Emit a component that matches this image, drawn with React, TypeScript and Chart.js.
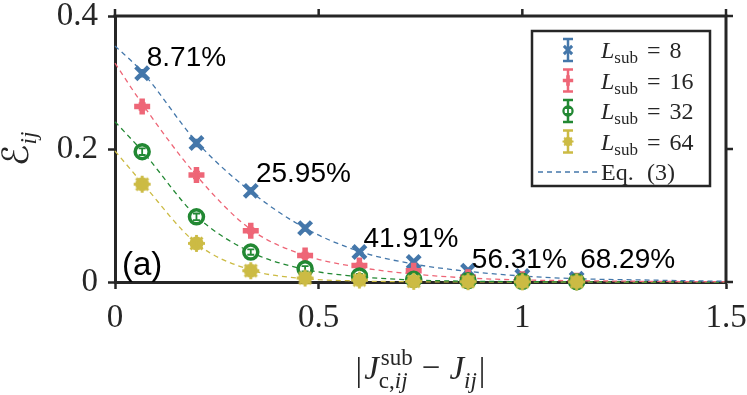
import React, { useEffect, useRef } from 'react';
import { Chart, registerables } from 'chart.js';

Chart.register(...registerables);

// ---- data ----
const xValues = [0.0667, 0.2, 0.3333, 0.4667, 0.6, 0.7333, 0.8667, 1.0, 1.1333];
const eps8 = [0.314, 0.209, 0.137, 0.081, 0.045, 0.030, 0.017, 0.009, 0.005];
const eps16 = [0.264, 0.161, 0.077, 0.040, 0.025, 0.017, 0.007, 0.004, 0.002];
const eps32 = [0.196, 0.098, 0.045, 0.020, 0.009, 0.004, 0.002, 0.001, 0.0005];
const eps64 = [0.147, 0.058, 0.017, 0.006, 0.003, 0.001, 0.0005, 0.0002, 0.0001];
const err8 = [0.005, 0.005, 0.004, 0.004, 0.003, 0.003, 0.002, 0.002, 0.002];
const err16 = [0.005, 0.005, 0.004, 0.004, 0.003, 0.003, 0.002, 0.002, 0.002];
const err32 = [0.005, 0.005, 0.004, 0.004, 0.003, 0.003, 0.002, 0.002, 0.002];
const err64 = [0.005, 0.004, 0.004, 0.003, 0.003, 0.002, 0.002, 0.002, 0.002];
const fitX = [0, 0.0667, 0.2, 0.3333, 0.4667, 0.6, 0.7333, 0.8667, 1.0, 1.1333, 1.3, 1.5];
const fit8 = [0.355, 0.316, 0.211, 0.136, 0.081, 0.046, 0.027, 0.016, 0.009, 0.005, 0.003, 0.001];
const fit16 = [0.329, 0.268, 0.160, 0.079, 0.040, 0.022, 0.012, 0.006, 0.003, 0.002, 0.001, 0.0004];
const fit32 = [0.241, 0.197, 0.099, 0.045, 0.019, 0.008, 0.003, 0.0012, 0.0005, 0.0002, 0.0001, 0];
const fit64 = [0.197, 0.149, 0.058, 0.018, 0.005, 0.0015, 0.0004, 0.0001, 0, 0, 0, 0];
const subsystemSizes = ['8', '16', '32', '64'];
const xTickValues = [0, 0.5, 1, 1.5];
const xTickLabels = ['0', '0.5', '1', '1.5'];
const yTickValues = [0, 0.2, 0.4];
const yTickLabels = ['0', '0.2', '0.4'];
const percentLabels = ['8.71%', '25.95%', '41.91%', '56.31%', '68.29%'];

const seriesVals = [eps8, eps16, eps32, eps64];
const seriesErrs = [err8, err16, err32, err64];
const seriesFits = [fit8, fit16, fit32, fit64];
const COLORS = ['#4477AA', '#EE6677', '#228833', '#CCBB44'];
const INK = '#262626';
const SERIF = '"Liberation Serif", "Times New Roman", serif';
const SANS = '"Liberation Sans", Arial, sans-serif';

// anchors (data units) for the percentage annotations: left / baseline
const noteAnchors = [
  { x: 0.078, y: 0.325 },
  { x: 0.346, y: 0.150 },
  { x: 0.610, y: 0.053 },
  { x: 0.876, y: 0.021 },
  { x: 1.142, y: 0.021 },
];

function makeSpiky(color: string, r: number) {
  const size = Math.ceil(r * 2 + 4);
  const c = document.createElement('canvas');
  c.width = size;
  c.height = size;
  const g = c.getContext('2d')!;
  const m = size / 2;
  g.fillStyle = color;
  g.beginPath();
  g.arc(m, m, r - 1.5, 0, Math.PI * 2);
  g.fill();
  g.strokeStyle = color;
  g.lineWidth = 2.8;
  for (let k = 0; k < 8; k++) {
    const a = (k * Math.PI) / 4;
    g.beginPath();
    g.moveTo(m, m);
    g.lineTo(m + Math.cos(a) * r, m + Math.sin(a) * r);
    g.stroke();
  }
  return c;
}

function drawMarker(ctx: CanvasRenderingContext2D, idx: number, x: number, y: number, spiky: HTMLCanvasElement, s: number) {
  const col = COLORS[idx];
  ctx.save();
  ctx.strokeStyle = col;
  ctx.fillStyle = col;
  if (idx === 0) {
    const d = 9 * s * Math.SQRT1_2;
    ctx.lineWidth = 4.5 * s;
    ctx.beginPath();
    ctx.moveTo(x - d, y - d); ctx.lineTo(x + d, y + d);
    ctx.moveTo(x - d, y + d); ctx.lineTo(x + d, y - d);
    ctx.stroke();
  } else if (idx === 1) {
    const d = 8 * s;
    ctx.lineWidth = 5.5 * s;
    ctx.beginPath();
    ctx.moveTo(x - d, y); ctx.lineTo(x + d, y);
    ctx.moveTo(x, y - d); ctx.lineTo(x, y + d);
    ctx.stroke();
  } else if (idx === 2) {
    ctx.lineWidth = 3.5 * s;
    ctx.fillStyle = '#ffffff';
    ctx.beginPath();
    ctx.arc(x, y, 7 * s, 0, Math.PI * 2);
    ctx.fill();
    ctx.stroke();
  } else {
    const w = spiky.width * s;
    ctx.drawImage(spiky, x - w / 2, y - w / 2, w, w);
  }
  ctx.restore();
}

function drawErrorBar(ctx: CanvasRenderingContext2D, col: string, x: number, y1: number, y2: number, capHalf: number, lw: number) {
  ctx.save();
  ctx.strokeStyle = col;
  ctx.lineWidth = lw;
  ctx.beginPath();
  ctx.moveTo(x, y1); ctx.lineTo(x, y2);
  ctx.moveTo(x - capHalf, y1); ctx.lineTo(x + capHalf, y1);
  ctx.moveTo(x - capHalf, y2); ctx.lineTo(x + capHalf, y2);
  ctx.stroke();
  ctx.restore();
}

export default function App() {
  const ref = useRef<HTMLCanvasElement>(null);

  useEffect(() => {
    const canvas = ref.current!;
    const spiky = makeSpiky(COLORS[3], 8.5);

    const fitDatasets = seriesFits.map((vals, i) => ({
      type: 'line' as const,
      label: 'fit' + i,
      data: fitX.map((x, j) => ({ x, y: vals[j] })),
      showLine: true,
      borderColor: COLORS[i],
      borderWidth: 1.3,
      borderDash: [5, 4],
      pointRadius: 0,
      cubicInterpolationMode: 'monotone' as const,
      fill: false,
      order: 10 + i,
      clip: false as const,
    }));

    const styles: any[] = [
      { pointStyle: 'crossRot', pointRadius: 9, pointBorderWidth: 4.5, pointBackgroundColor: COLORS[0] },
      { pointStyle: 'cross', pointRadius: 8, pointBorderWidth: 5.5, pointBackgroundColor: COLORS[1] },
      { pointStyle: 'circle', pointRadius: 7, pointBorderWidth: 3.5, pointBackgroundColor: '#ffffff' },
      { pointStyle: spiky, pointRadius: 8.5, pointBorderWidth: 0, pointBackgroundColor: COLORS[3] },
    ];

    const markerDatasets = seriesVals.map((vals, i) => ({
      type: 'scatter' as const,
      label: 'L' + subsystemSizes[i],
      data: xValues.map((x, j) => ({ x, y: vals[j] })),
      errors: seriesErrs[i],
      showLine: false,
      borderColor: COLORS[i],
      pointBorderColor: COLORS[i],
      ...styles[i],
      order: 4 - i,
      clip: false as const,
    }));

    const errorBarPlugin = {
      id: 'errorBars',
      afterDatasetDraw(chart: any, args: any) {
        const ds = chart.data.datasets[args.index];
        if (!ds.errors) return;
        const ctx = chart.ctx as CanvasRenderingContext2D;
        const ys = chart.scales.y;
        args.meta.data.forEach((pt: any, j: number) => {
          const v = ds.data[j].y;
          const e = ds.errors[j];
          drawErrorBar(ctx, ds.borderColor, pt.x, ys.getPixelForValue(v - e), ys.getPixelForValue(v + e), 3.5, 1.8);
        });
      },
    };

    const decorPlugin = {
      id: 'decor',
      afterDraw(chart: any) {
        const ctx = chart.ctx as CanvasRenderingContext2D;
        const { left, right, top, bottom } = chart.chartArea;
        const xs = chart.scales.x;
        const ys = chart.scales.y;
        ctx.save();

        // top and right frame with outward ticks
        ctx.strokeStyle = INK;
        ctx.lineWidth = 3;
        ctx.beginPath();
        ctx.moveTo(left - 1.5, top);
        ctx.lineTo(right + 1.5, top);
        ctx.moveTo(right, top);
        ctx.lineTo(right, bottom + 1.5);
        ctx.stroke();
        ctx.lineWidth = 2.5;
        ctx.beginPath();
        xTickValues.forEach((v) => {
          const px = xs.getPixelForValue(v);
          ctx.moveTo(px, top);
          ctx.lineTo(px, top - 7);
        });
        yTickValues.forEach((v) => {
          const py = ys.getPixelForValue(v);
          ctx.moveTo(right, py);
          ctx.lineTo(right + 7, py);
        });
        ctx.stroke();

        ctx.textBaseline = 'alphabetic';
        ctx.textAlign = 'left';
        ctx.fillStyle = '#000000';

        // percentage annotations
        ctx.font = `28px ${SANS}`;
        percentLabels.forEach((t, i) => {
          ctx.fillText(t, xs.getPixelForValue(noteAnchors[i].x), ys.getPixelForValue(noteAnchors[i].y));
        });
        // panel label
        ctx.font = `33px ${SANS}`;
        ctx.fillText('(a)', left + 7, bottom - 7);

        // x-axis title  |J^sub_{c,ij} - J_ij|
        ctx.fillStyle = INK;
        const big = 33;
        const small = 23;
        const fBig = `${big}px ${SERIF}`;
        const fBigI = `italic ${big}px ${SERIF}`;
        const fSmall = `${small}px ${SERIF}`;
        const fSmallI = `italic ${small}px ${SERIF}`;
        const m = (f: string, t: string) => { ctx.font = f; return ctx.measureText(t).width; };
        const wBar = m(fBig, '|');
        const wJ = m(fBigI, 'J');
        const wSup = m(fSmall, 'sub');
        const wSubA = m(fSmall, 'c,');
        const wSubB = m(fSmallI, 'ij');
        const wScript = Math.max(wSup, wSubA + wSubB);
        const wMinus = m(fBig, '−');
        const wIJ = m(fSmallI, 'ij');
        const gap = 9;
        const total = wBar + 2 + wJ + 2 + wScript + gap + wMinus + gap + wJ + wIJ + 2 + wBar;
        let cx = (left + right) / 2 - total / 2;
        const base = 379;
        ctx.font = fBig; ctx.fillText('|', cx, base + 2); cx += wBar + 2;
        ctx.font = fBigI; ctx.fillText('J', cx, base); cx += wJ + 2;
        ctx.font = fSmall; ctx.fillText('sub', cx, base - 14);
        ctx.font = fSmall; ctx.fillText('c,', cx - 2, base + 9);
        ctx.font = fSmallI; ctx.fillText('ij', cx - 2 + wSubA, base + 9);
        cx += wScript + gap;
        ctx.font = fBig; ctx.fillText('−', cx, base - 1); cx += wMinus + gap;
        ctx.font = fBigI; ctx.fillText('J', cx, base); cx += wJ;
        ctx.font = fSmallI; ctx.fillText('ij', cx, base + 9); cx += wIJ + 2;
        ctx.font = fBig; ctx.fillText('|', cx, base + 2);

        // y-axis title  E_ij (rotated)
        ctx.save();
        ctx.translate(28, (top + bottom) / 2);
        ctx.rotate(-Math.PI / 2);
        const fE = `36px "DejaVu Serif", "DejaVu Sans", serif`;
        const wE = m(fE, 'ℰ');
        const wij = m(fSmallI, 'ij');
        const tw = wE + wij;
        ctx.font = fE; ctx.fillText('ℰ', -tw / 2, 0);
        ctx.font = fSmallI; ctx.fillText('ij', -tw / 2 + wE, 8);
        ctx.restore();

        // legend
        const bx = right - 194;
        const by = top + 15;
        const bw = 178;
        const bh = 155;
        ctx.fillStyle = '#ffffff';
        ctx.fillRect(bx, by, bw, bh);
        ctx.strokeStyle = INK;
        ctx.lineWidth = 2.5;
        ctx.strokeRect(bx, by, bw, bh);
        const mx = bx + 36;
        const tx = bx + 69;
        const lf = `italic 24px ${SERIF}`;
        const lfs = `17px ${SERIF}`;
        const lfu = `24px ${SERIF}`;
        for (let i = 0; i < 4; i++) {
          const cy = by + 19 + i * 30.5;
          drawErrorBar(ctx, COLORS[i], mx, cy - 11, cy + 11, 5, 2.5);
          drawMarker(ctx, i, mx, cy, spiky, 0.65);
          if (i === 2) drawErrorBar(ctx, COLORS[i], mx, cy - 3, cy + 3, 3, 1.8);
          ctx.fillStyle = INK;
          let lx = tx;
          const yb = cy + 8;
          ctx.font = lf; ctx.fillText('L', lx, yb); lx += m(lf, 'L') + 0;
          ctx.font = lfs; ctx.fillText('sub', lx, yb + 5); lx += m(lfs, 'sub') + 9;
          ctx.font = lfu; ctx.fillText('=', lx, yb); lx += m(lfu, '=') + 9;
          ctx.font = lfu; ctx.fillText(subsystemSizes[i], lx, yb);
        }
        const ey = by + 141;
        ctx.save();
        ctx.strokeStyle = COLORS[0];
        ctx.lineWidth = 1.3;
        ctx.setLineDash([5, 4]);
        ctx.beginPath();
        ctx.moveTo(bx + 6, ey);
        ctx.lineTo(bx + 65, ey);
        ctx.stroke();
        ctx.restore();
        ctx.fillStyle = INK;
        ctx.font = lfu;
        ctx.fillText('Eq.', tx, ey + 8);
        ctx.fillText('(3)', tx + 46, ey + 8);
        ctx.restore();
      },
    };

    const zeroPad = (s: any) => {
      s.paddingTop = 0;
      s.paddingBottom = 0;
      s.paddingLeft = 0;
      s.paddingRight = 0;
    };

    const chart = new Chart(canvas, {
      type: 'scatter',
      data: { datasets: [...markerDatasets, ...fitDatasets] as any },
      options: {
        animation: false,
        responsive: false,
        devicePixelRatio: 1,
        events: [],
        layout: { padding: { left: 0, top: 16, right: 21, bottom: 0 } },
        plugins: { legend: { display: false }, tooltip: { enabled: false } },
        scales: {
          x: {
            type: 'linear',
            min: 0,
            max: 1.5,
            afterFit: (s: any) => { s.height = 113; zeroPad(s); },
            afterBuildTicks: (s: any) => { s.ticks = xTickValues.map((v) => ({ value: v })); },
            ticks: {
              callback: (_v: any, i: number) => xTickLabels[i],
              font: { family: SERIF, size: 33 },
              color: INK,
              padding: 10,
              maxRotation: 0,
              autoSkip: false,
            },
            grid: { drawOnChartArea: false, drawTicks: true, tickLength: 7, tickWidth: 2.5, tickColor: INK },
            border: { display: true, width: 3, color: INK },
          },
          y: {
            type: 'linear',
            min: 0,
            max: 0.4,
            afterFit: (s: any) => { s.width = 115; zeroPad(s); },
            afterBuildTicks: (s: any) => { s.ticks = yTickValues.map((v) => ({ value: v })); },
            ticks: {
              callback: (_v: any, i: number) => yTickLabels[i],
              font: { family: SERIF, size: 33 },
              color: INK,
              padding: 10,
              autoSkip: false,
            },
            grid: { drawOnChartArea: false, drawTicks: true, tickLength: 7, tickWidth: 2.5, tickColor: INK },
            border: { display: true, width: 3, color: INK },
          },
        },
      } as any,
      plugins: [errorBarPlugin, decorPlugin],
    });

    return () => chart.destroy();
  }, []);

  return (
    <div style={{ position: 'absolute', left: 0, top: 0, width: 747, height: 395, background: '#ffffff' }}>
      <canvas ref={ref} width={747} height={395} style={{ display: 'block' }} />
    </div>
  );
}
